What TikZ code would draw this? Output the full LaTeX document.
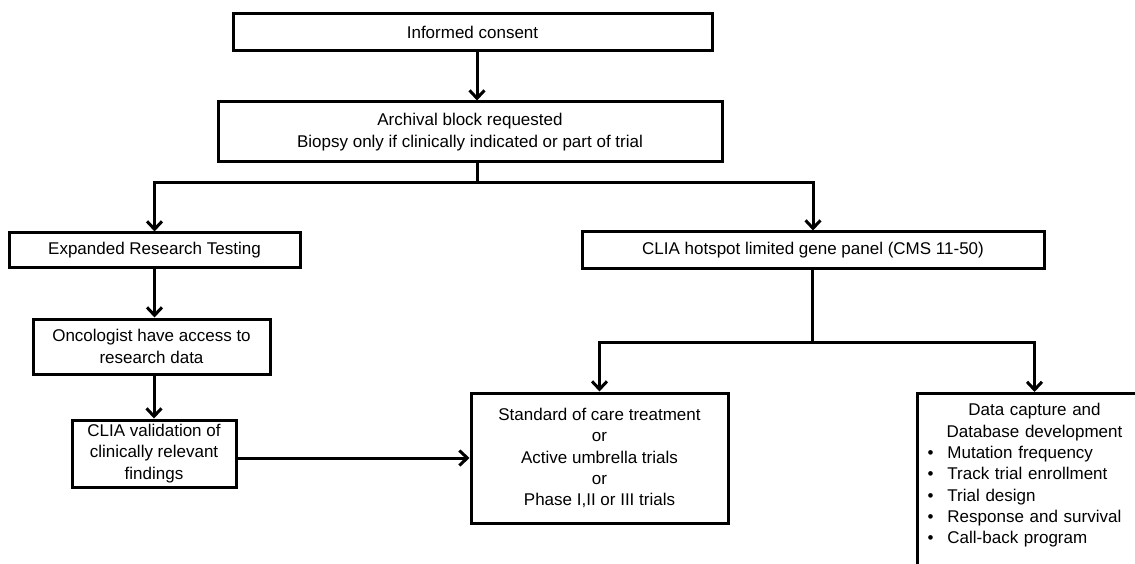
\documentclass[tikz,border=0pt]{standalone}
\usepackage{fontspec}
\setmainfont{Liberation Sans}
\usepackage{tikz}
\usetikzlibrary{calc,arrows.meta}

\newcommand{\bitem}[1]{\hspace*{3pt}\textbullet\hspace{14pt}#1}

\begin{document}
\begin{tikzpicture}[x=1pt,y=-1pt,
  box/.style={draw, line width=3pt, rectangle, align=center, inner sep=0pt,
    font=\fontsize{17}{21.3}\selectfont},
  link/.style={line width=3pt},
  arr/.style={link, -{Straight Barb[length=8pt,width=15pt,line width=3pt]}}]
\useasboundingbox (0,0) rectangle (1135,564);
\clip (0,0) rectangle (1135,564);

\node[box, minimum width=479, minimum height=37] (consent) at (472.5,32.5) {Informed consent};
\node[box, minimum width=504, minimum height=60] (archival) at (470,132)
  {Archival block requested\\Biopsy only if clinically indicated or part of trial};

\node[box, minimum width=291, minimum height=34] (expanded) at (154.5,250) {Expanded Research Testing};
\node[box, minimum width=237, minimum height=55] (oncologist) at (151.5,346.5)
  {Oncologist have access to\\research data};
\node[box, minimum width=164, minimum height=67] (validation) at (154,453.5)
  {CLIA validation of\\clinically relevant\\findings};

\node[box, minimum width=462, minimum height=36] (hotspot) at (813,250)
  {CLIA hotspot limited gene panel (CMS 11-50)};
\node[box, minimum width=257, minimum height=130] (standard) at (599.5,458)
  {Standard of care treatment\\or\\Active umbrella trials\\or\\Phase I,II or III trials};
\node[box, anchor=north west, align=left, text width=220, inner xsep=7, inner ysep=10,
  text depth=180] (data) at (916,392)
  {\makebox[220pt][c]{Data capture and}\\\makebox[220pt][c]{Database development}\\
   \bitem{Mutation frequency}\\\bitem{Track trial enrollment}\\\bitem{Trial design}\\
   \bitem{Response and survival}\\\bitem{Call-back program}};

\coordinate (split) at (477,183);
\coordinate (fork) at (812,342);

\draw[arr] (consent.south -| split) -- (archival.north -| split);
\draw[link] (archival.south -| split) -- (split);
\draw[arr] (split) -| (expanded);
\draw[arr] (split) -| (hotspot);
\draw[arr] (expanded.south) -- (expanded.south |- oncologist.north);
\draw[arr] (oncologist.south -| validation) -- (validation);
\draw[arr] (validation.east |- standard) -- (standard.west);
\draw[link] (hotspot.south -| fork) -- (fork);
\draw[arr] (fork) -| (standard);
\draw[arr] (fork) -| (data);
\end{tikzpicture}
\end{document}
